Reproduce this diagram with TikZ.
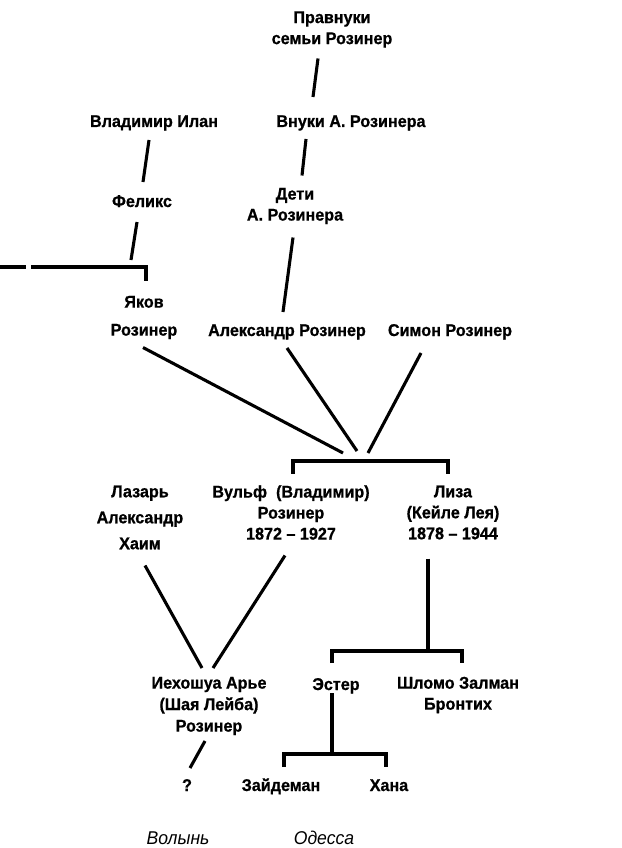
\documentclass[tikz,border=0pt]{standalone}
\usepackage{fontspec}
\setmainfont{Liberation Sans}[FakeStretch=0.95,BoldFeatures={FakeBold=0.8}]
\begin{document}
\begin{tikzpicture}[x=1pt,y=-1pt,line width=3.1pt,
  nm/.style={font=\bfseries\fontsize{17}{21}\selectfont,inner sep=0pt,align=center},
  one/.style={nm,text height=12pt,text depth=0pt},
  plc/.style={font=\itshape\fontsize{18.5}{21}\selectfont,inner sep=0pt,text height=13pt,text depth=0pt},
  link/.style={line cap=butt},
  brk/.style={line cap=butt,line join=miter}]
\useasboundingbox (0,0) rectangle (621,848);
% nodes
\node[nm] (prav) at (332,29.5) {Правнуки\\семьи Розинер};
\node[one] (vnuki) at (351,121) {Внуки А. Розинера};
\node[one] (vlad) at (154,121) {Владимир Илан};
\node[one] (felix) at (142,201) {Феликс};
\node[nm] (deti) at (295,206) {Дети\\А. Розинера};
\node[nm,font=\bfseries\fontsize{17}{28}\selectfont] (yakov) at (144,317.5) {Яков\\Розинер};
\node[one] (alex) at (287,330) {Александр Розинер};
\node[one] (simon) at (450,330) {Симон Розинер};
\node[nm,font=\bfseries\fontsize{17}{26}\selectfont] (lazar) at (140,517.5) {Лазарь\\Александр\\Хаим};
\node[nm] (vulf) at (291,512.5) {Вульф~ (Владимир)\\Розинер\\1872 – 1927};
\node[nm] (liza) at (453,512.5) {Лиза\\(Кейле Лея)\\1878 – 1944};
\node[nm,font=\bfseries\fontsize{17}{21.5}\selectfont] (iehosh) at (209,706) {Иехошуа Арье\\(Шая Лейба)\\Розинер};
\node[one] (ester) at (336,684) {Эстер};
\node[nm] (shlomo) at (458,695) {Шломо Залман\\Бронтих};
\node[one] (q) at (187,785) {?};
\node[one] (zayd) at (281,785) {Зайдеман};
\node[one] (hana) at (389,785) {Хана};
\node[plc] (volyn) at (178,838) {Волынь};
\node[plc] (odessa) at (324,838) {Одесса};
% bracket coordinates
\coordinate (ybr) at (88,267);
\coordinate (yedge) at (0,267);
\coordinate (pbr) at (370.5,461);
\coordinate (ebr) at (397,651);
\coordinate (zbr) at (335,754);
% connectors
\draw[link] ([shift={(-14,29)}]prav.center) -- ([shift={(-38,-24)}]vnuki.center);
\draw[link] ([shift={(-5,19)}]vlad.center) -- ([shift={(1,-19)}]felix.center);
\draw[link] ([shift={(-45,18)}]vnuki.center) -- ([shift={(7,-30.5)}]deti.center);
\draw[link] ([shift={(-5,21)}]felix.center) -- ([shift={(43,-7)}]ybr);
\draw[brk] ([shift={(-57,0)}]ybr) -- ([shift={(58,0)}]ybr) -- ([shift={(2,-37)}]yakov.center);
\draw[brk] (yedge) -- ([shift={(26,0)}]yedge);
\draw[link] ([shift={(-2,31.5)}]deti.center) -- ([shift={(-4,-18)}]alex.center);
\draw[link] ([shift={(-1,30)}]yakov.center) -- ([shift={(-27.5,-8)}]pbr);
\draw[link] ([shift={(0,18)}]alex.center) -- ([shift={(-13.5,-10)}]pbr);
\draw[link] ([shift={(-29,23)}]simon.center) -- ([shift={(-2.5,-8)}]pbr);
\draw[brk] ([shift={(2,-39)}]vulf.center) -- ([shift={(-77.5,0)}]pbr) -- ([shift={(77.5,0)}]pbr) -- ([shift={(-5,-39)}]liza.center);
\draw[link] ([shift={(5,48)}]lazar.center) -- ([shift={(-7,-38)}]iehosh.center);
\draw[link] ([shift={(-6,43)}]vulf.center) -- ([shift={(4,-38)}]iehosh.center);
\draw[link] ([shift={(-25,46)}]liza.center) -- ([shift={(31,0)}]ebr);
\draw[brk] ([shift={(-4,-21)}]ester.center) -- ([shift={(-65,0)}]ebr) -- ([shift={(65,0)}]ebr) -- ([shift={(4,-32)}]shlomo.center);
\draw[link] ([shift={(-4,9)}]ester.center) -- ([shift={(-3,0)}]zbr);
\draw[brk] ([shift={(3,-18)}]zayd.center) -- ([shift={(-51,0)}]zbr) -- ([shift={(51,0)}]zbr) -- ([shift={(-3,-18)}]hana.center);
\draw[link] ([shift={(-4,35)}]iehosh.center) -- ([shift={(3,-17)}]q.center);
\end{tikzpicture}
\end{document}
